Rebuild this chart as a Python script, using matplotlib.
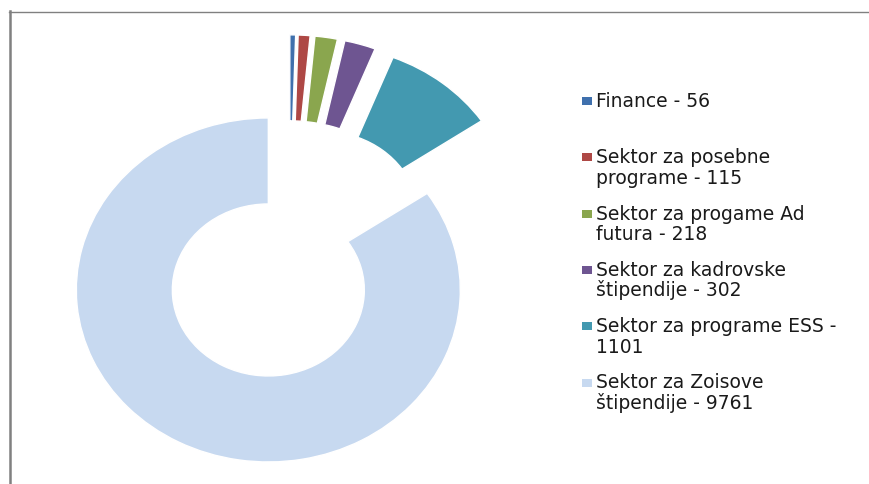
import matplotlib
matplotlib.use("Agg")
import matplotlib.pyplot as plt
from matplotlib.patches import Rectangle
from matplotlib.lines import Line2D

# data
sectors = [["Finance"], ["Sektor za posebne", "programe"], ["Sektor za progame Ad", "futura"],
           ["Sektor za kadrovske", "štipendije"], ["Sektor za programe ESS -", ""],
           ["Sektor za Zoisove", "štipendije"]]
counts = [56, 115, 218, 302, 1101, 9761]
colors = ["#3f70ad", "#ae4845", "#8aa64e", "#6e5591", "#4399b0", "#c7d9f0"]
explode = [0.28, 0.28, 0.28, 0.28, 0.28, 0.23]

W, H = 870, 484
fig = plt.figure(figsize=(W / 100, H / 100), dpi=100)
ax = fig.add_axes([0, 0, 1, 1])

# donut, a bit stretched horizontally like the original
cx, cy = 289, H - 255
rx, ry = 192, 172
ax.pie(counts, colors=colors, startangle=90, counterclock=False, explode=explode,
       radius=1, wedgeprops=dict(width=0.5, edgecolor="white", linewidth=1.0))
ax.set_aspect("auto")
ax.set_xlim(-cx / rx, (W - cx) / rx)
ax.set_ylim(-cy / ry, (H - cy) / ry)
ax.axis("off")

# legend drawn by hand so the square sits on the first line
for i, (lines, n, c) in enumerate(zip(sectors, counts, colors)):
    lines = list(lines)
    if lines[-1] == "":
        lines[-1] = str(n)
    else:
        lines[-1] = f"{lines[-1]} - {n}"
    base = 107 + 56.3 * i
    for k, txt in enumerate(lines):
        fig.text(596 / W, 1 - (base + 20.5 * k) / H, txt, fontsize=13.5, color="#1a1a1a",
                 va="baseline", ha="left")
    fig.patches.append(Rectangle((582 / W, 1 - (base - 2) / H), 10 / W, 8 / H,
                                 transform=fig.transFigure, facecolor=c, edgecolor="none"))

# frame lines at top and left
fig.lines.append(Line2D([9 / W, 1], [1 - 11.5 / H] * 2, transform=fig.transFigure,
                        color="#808080", linewidth=1))
fig.lines.append(Line2D([10 / W] * 2, [0, 1 - 11 / H], transform=fig.transFigure,
                        color="#808080", linewidth=1.8))

fig.savefig("out.png", dpi=100, facecolor="white")
